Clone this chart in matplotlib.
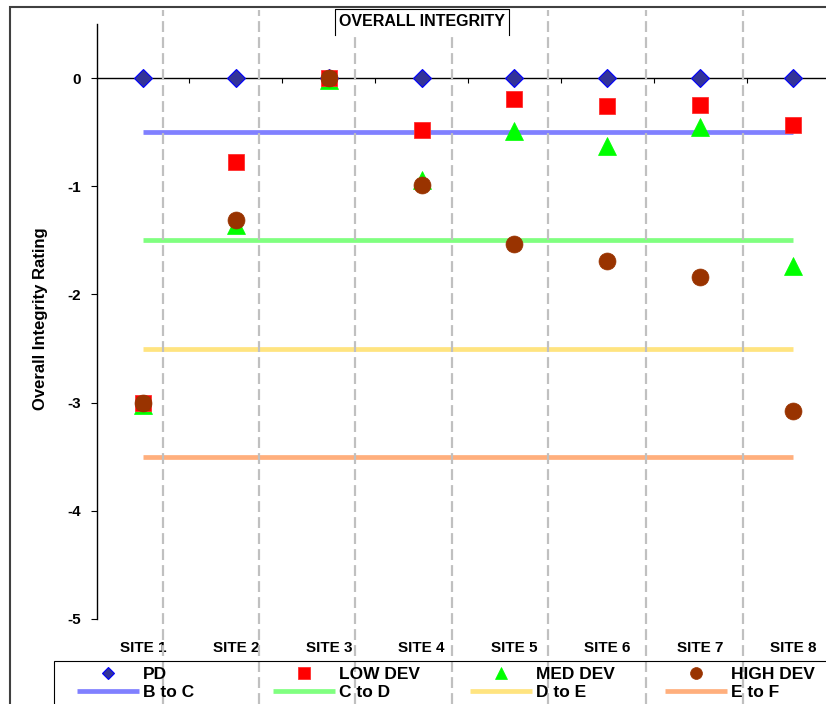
import matplotlib
matplotlib.use('Agg')
import matplotlib.pyplot as plt
from matplotlib.patches import Rectangle
from matplotlib.lines import Line2D
import numpy as np

# ---------------- data ----------------
sites = ['SITE 1', 'SITE 2', 'SITE 3', 'SITE 4', 'SITE 5', 'SITE 6', 'SITE 7', 'SITE 8']
pd_vals = [0, 0, 0, 0, 0, 0, 0, 0]
low_dev = [-3.00, -0.78, 0.00, -0.48, -0.19, -0.26, -0.25, -0.43]
med_dev = [-3.02, -1.36, -0.02, -0.94, -0.49, -0.63, -0.45, -1.74]
high_dev = [-3.00, -1.31, 0.00, -0.99, -1.53, -1.69, -1.84, -3.08]
b_to_c = [-0.5, -0.5, -0.5, -0.5, -0.5, -0.5, -0.5, -0.5]
c_to_d = [-1.5, -1.5, -1.5, -1.5, -1.5, -1.5, -1.5, -1.5]
d_to_e = [-2.5, -2.5, -2.5, -2.5, -2.5, -2.5, -2.5, -2.5]
e_to_f = [-3.5, -3.5, -3.5, -3.5, -3.5, -3.5, -3.5, -3.5]
y_ticks = [0, -1, -2, -3, -4, -5]
# decorative dashed gridlines (secondary category grid)
grid_x = [1.215, 2.249, 3.283, 4.327, 5.361, 6.416, 7.461]

plt.rcParams['font.family'] = ['Liberation Sans', 'DejaVu Sans']
plt.rcParams['font.weight'] = 'bold'
plt.rcParams['axes.unicode_minus'] = False

W, H = 826, 704
fig = plt.figure(figsize=(W / 100, H / 100), dpi=100)


def fx(px):
    return px / W


def fy(py):
    return 1 - py / H


ax_left, ax_right = 96.6, 839.5
ax_top, ax_bot = 24, 619
ax = fig.add_axes([fx(ax_left), fy(ax_bot), (ax_right - ax_left) / W, (ax_bot - ax_top) / H])
x = np.arange(1, len(sites) + 1)
ax.set_xlim(0.5, 8.5)
ax.set_ylim(-5, 0.5)

lw_band = 3.4
l_bc, = ax.plot(x, b_to_c, color='#8080FF', lw=lw_band, solid_capstyle='butt', zorder=2, label='B to C')
l_cd, = ax.plot(x, c_to_d, color='#80FF80', lw=lw_band, solid_capstyle='butt', zorder=2, label='C to D')
l_de, = ax.plot(x, d_to_e, color='#FFE480', lw=lw_band, solid_capstyle='butt', zorder=2, label='D to E')
l_ef, = ax.plot(x, e_to_f, color='#FFAF7D', lw=lw_band, solid_capstyle='butt', zorder=2, label='E to F')

# dashed gray verticals spanning the whole chart height
ymin_ax = (0 - (H - ax_bot)) / (ax_bot - ax_top)
ymax_ax = ((H - 10) - (H - ax_bot)) / (ax_bot - ax_top)
for g in grid_x:
    ax.axvline(g, ymin=ymin_ax, ymax=ymax_ax, clip_on=False, color='#C0C0C0',
               lw=1.6, ls=(0, (4.9, 2.3)), zorder=2.5)

h_pd, = ax.plot(x, pd_vals, ls='none', marker='D', ms=8.7, mfc='#333399', mec='#0000FF',
                mew=0.8, zorder=4, label='PD')
h_med, = ax.plot(x, med_dev, ls='none', marker='^', ms=13, mfc='#00FF00', mec='#00FF00',
                 mew=0.5, zorder=5, label='MED DEV')
h_low, = ax.plot(x, low_dev, ls='none', marker='s', ms=12, mfc='#FF0000', mec='#FF3030',
                 mew=0.6, zorder=6, label='LOW DEV')
h_high, = ax.plot(x, high_dev, ls='none', marker='o', ms=12.2, mfc='#993300', mec='#993300',
                  mew=0.5, zorder=7, label='HIGH DEV')

# spines / ticks
for s in ['top', 'right', 'bottom']:
    ax.spines[s].set_visible(False)
ax.spines['left'].set_linewidth(1.0)
ax.set_yticks(y_ticks)
ax.tick_params(axis='y', length=4.3, width=0.8, pad=7, labelsize=11, direction='out')
ax.set_xticks(x, sites)
ax.tick_params(axis='x', length=0, pad=16, labelsize=11)
for t in ax.get_xticklabels() + ax.get_yticklabels():
    t.set_fontweight('bold')

# zero axis line with category boundary ticks
sec = ax.secondary_xaxis(5 / 5.5)
sec.set_xticks(x[:-1] + 0.5)
sec.tick_params(direction='in', length=3.6, width=0.8, labeltop=False, labelbottom=False)
for s in sec.spines.values():
    s.set_linewidth(1.0)

ax.set_ylabel('Overall Integrity Rating', fontsize=12, fontweight='bold')
ax.yaxis.set_label_coords((40 - ax_left) / (ax_right - ax_left), (ax_bot - 319) / (ax_bot - ax_top))
ax.yaxis.label.set_va('center')

# outer chart frame
fig.add_artist(Rectangle((fx(10), fy(720)), fx(840) - fx(10), fy(7) - fy(720),
                         transform=fig.transFigure, fill=False, ec='#404040', lw=1.5, zorder=9))

# title box
fig.add_artist(Rectangle((fx(335), fy(35)), (509 - 335) / W, 26 / H, transform=fig.transFigure,
                         fc='white', ec='none', zorder=10))
fig.add_artist(Line2D([fx(335), fx(335), fx(509), fx(509)], [fy(35), fy(9), fy(9), fy(35)],
                      transform=fig.transFigure, color='black', lw=0.8, zorder=11))
fig.text(fx(422), fy(22), 'OVERALL INTEGRITY', ha='center', va='center', fontsize=11.5,
         fontweight='bold', zorder=12)

# legend frame
fig.add_artist(Rectangle((fx(54), fy(720)), fx(840) - fx(54), fy(661) - fy(720),
                         transform=fig.transFigure, fill=False, ec='black', lw=0.8, zorder=9))

entries = [(h_pd, 'PD', 77, 674), (l_bc, 'B to C', 77, 692),
           (h_low, 'LOW DEV', 273, 674), (l_cd, 'C to D', 273, 692),
           (h_med, 'MED DEV', 470, 674), (l_de, 'D to E', 470, 692),
           (h_high, 'HIGH DEV', 665, 674), (l_ef, 'E to F', 665, 692)]
for h, lab, px, py in entries:
    fig.legend([h], [lab], loc='center left', bbox_to_anchor=(fx(px), fy(py)),
               frameon=False, borderpad=0, borderaxespad=0, handlelength=3.57,
               handletextpad=0.23, markerscale=0.7, prop={'size': 12.5, 'weight': 'bold'})

fig.savefig('out.png', dpi=100)
